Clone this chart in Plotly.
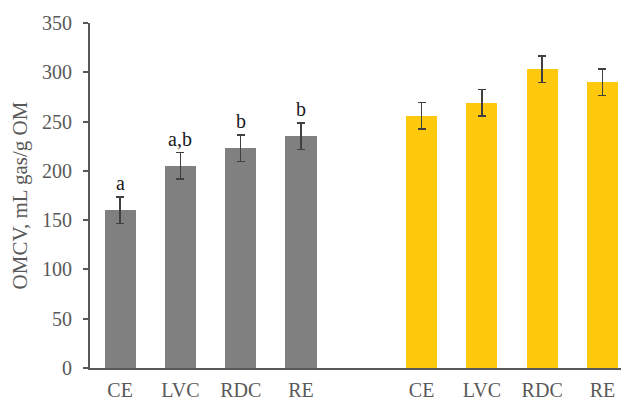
import plotly.graph_objects as go

categories = ["CE", "LVC", "RDC", "RE"]
gray_values = [160, 205, 223, 235]
gray_errors = [13.5, 13.5, 13.5, 13.5]
gray_letters = ["a", "a,b", "b", "b"]
yellow_values = [256, 269, 303, 290]
yellow_errors = [13.5, 13.5, 13.5, 13.5]

gray_x = list(range(len(categories)))
yellow_x = [i + len(categories) + 1 for i in range(len(categories))]

font_family = "Liberation Serif, Times New Roman, serif"
txt_color = "#595959"

fig = go.Figure()
fig.add_trace(go.Bar(
    x=gray_x, y=gray_values, width=0.515,
    marker=dict(color="#808080", line=dict(width=0)),
    error_y=dict(type="data", array=gray_errors, visible=True,
                 color="#404040", thickness=1.5, width=4),
    showlegend=False,
))
fig.add_trace(go.Bar(
    x=yellow_x, y=yellow_values, width=0.515,
    marker=dict(color="#FFC90D", line=dict(width=0)),
    error_y=dict(type="data", array=yellow_errors, visible=True,
                 color="#404040", thickness=1.5, width=4),
    showlegend=False,
))

for xi, v, e, lab in zip(gray_x, gray_values, gray_errors, gray_letters):
    fig.add_annotation(x=xi, y=v + e, text=lab, showarrow=False,
                       yanchor="bottom", yshift=1,
                       font=dict(family=font_family, size=20, color="#1a1a1a"))

fig.update_layout(
    width=621, height=394,
    margin=dict(l=82, r=0, t=15, b=34),
    paper_bgcolor="white", plot_bgcolor="white",
    font=dict(family=font_family, size=20, color=txt_color),
    bargap=0,
)
fig.update_xaxes(
    range=[-0.5, 8.44],
    tickvals=gray_x + yellow_x,
    ticktext=categories + categories,
    showline=True, linecolor="#595959", linewidth=2,
    ticks="", showgrid=False, zeroline=False,
    ticklabelstandoff=3, automargin=False,
    tickfont=dict(family=font_family, size=20, color=txt_color),
)
fig.update_yaxes(
    range=[0, 350], dtick=50,
    showline=True, linecolor="#595959", linewidth=2,
    ticks="outside", ticklen=5, tickwidth=1.5, tickcolor="#595959",
    showgrid=False, zeroline=False,
    ticklabelstandoff=7, automargin=False,
    title=dict(text="OMCV, mL gas/g OM", standoff=9,
               font=dict(family=font_family, size=21, color=txt_color)),
    tickfont=dict(family=font_family, size=20, color=txt_color),
)

fig.write_html("out.html")
